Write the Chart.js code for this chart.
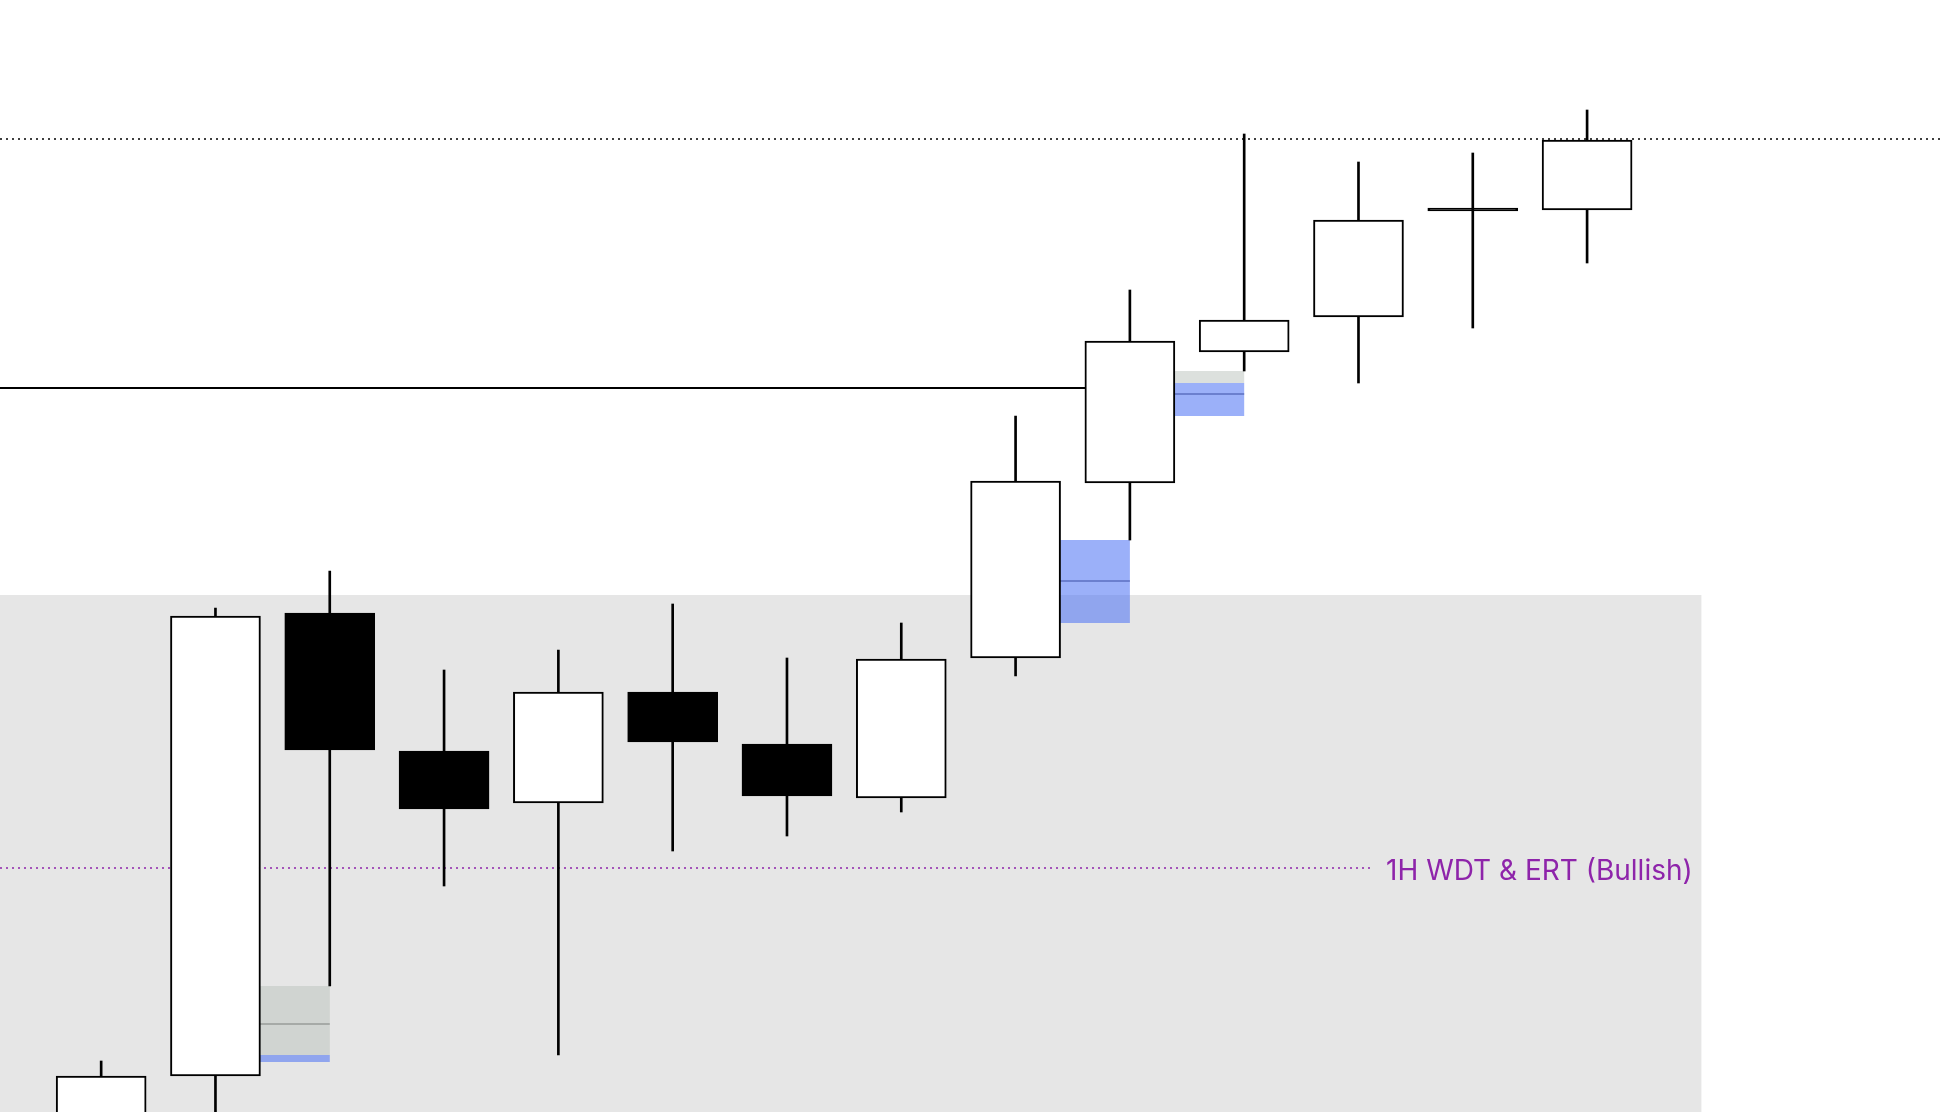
<!DOCTYPE html>
<html>
<head>
<meta charset="utf-8">
<script src="https://cdn.jsdelivr.net/npm/chart.js@4.4.1/dist/chart.umd.min.js"></script>
<style>
  html, body { margin: 0; padding: 0; background: #fff; overflow: hidden; }
  #wrap { width: 1942px; height: 1112px; }
</style>
</head>
<body>
<div id="wrap"><canvas id="chart" width="1942" height="1112"></canvas></div>
<script>
// candles (1H)
const candleIndex = [0, 1, 2, 3, 4, 5, 6, 7, 8, 9, 10, 11, 12, 13];
const opens  = [3996.2, 4003.6, 4049.9, 4036.1, 4030.9, 4042.0, 4036.8, 4031.4, 4045.4, 4062.9, 4076.0, 4079.5, 4090.1, 4090.2];
const closes = [4003.6, 4049.6, 4036.2, 4030.3, 4042.0, 4037.0, 4031.6, 4045.3, 4063.1, 4077.1, 4079.2, 4089.2, 4090.1, 4097.2];
const highs  = [4005.1, 4050.4, 4054.1, 4044.2, 4046.2, 4050.8, 4045.4, 4048.9, 4069.6, 4082.2, 4097.8, 4095.0, 4095.9, 4100.2];
const lows   = [3993.2, 3996.2, 4012.6, 4022.6, 4005.7, 4026.1, 4027.6, 4030.0, 4043.6, 4057.2, 4074.1, 4072.9, 4078.4, 4084.9];

// levels
const highLevel = 4097.3;       // dotted line at top
const breakLevel = 4072.4;      // solid line
const breakLevelEnd = 8.61;     // runs up to candle 9 body
const wdtLevel = 4024.4;        // 1H WDT & ERT (Bullish)
const wdtLevelEnd = 11.11;
const wdtLabel = "1H WDT & ERT (Bullish)";
const zoneTop = 4051.7;         // grey zone, down to the bottom
const zoneEnd = 14;

// small boxes: start at body edge of candle, end at centre of the next
const boxAfter       = [1, 8, 9];
const boxGrayTop     = [4012.6, null, 4074.1];
const boxGrayBottom  = [4005.7, null, 4072.9];
const boxBlueTop     = [4005.7, 4057.2, 4072.9];
const boxBlueBottom  = [4005.0, 4048.9, 4069.6];
const boxMid         = [4008.8, 4053.1, 4071.8];

const X_MIN = -0.885, X_MAX = 16.105;
const Y_MIN = 4000, Y_MAX = 4111.2;
const HALF_BODY = 0.39;

const bodies = candleIndex.map((x, i) => ({ x: x, y: [opens[i], closes[i]] }));
const wicks = candleIndex.map((x, i) => ({ x: x, y: [lows[i], highs[i]] }));
// white = up, black = down; a doji is just a thick black line
const bodyColors = candleIndex.map(i => closes[i] > opens[i] ? '#ffffff' : '#000000');

const zonesPlugin = {
  id: 'zones',
  beforeDatasetsDraw(chart) {
    const { ctx, scales: { x, y } } = chart;
    ctx.save();
    // big grey zone
    ctx.fillStyle = '#e6e6e6';
    const zx0 = x.getPixelForValue(X_MIN), zx1 = x.getPixelForValue(zoneEnd);
    const zy0 = y.getPixelForValue(zoneTop), zy1 = y.getPixelForValue(Y_MIN);
    ctx.fillRect(zx0, zy0, zx1 - zx0, zy1 - zy0);

    boxAfter.forEach((c, i) => {
      const x0 = x.getPixelForValue(c + HALF_BODY);
      const x1 = x.getPixelForValue(c + 1);
      if (boxGrayTop[i] !== null) {
        const a = y.getPixelForValue(boxGrayTop[i]), b = y.getPixelForValue(boxGrayBottom[i]);
        ctx.fillStyle = 'rgba(186,193,187,0.5)';
        ctx.fillRect(x0, a, x1 - x0, b - a);
      }
      const a = y.getPixelForValue(boxBlueTop[i]), b = y.getPixelForValue(boxBlueBottom[i]);
      ctx.fillStyle = 'rgba(73,111,244,0.55)';
      ctx.fillRect(x0, a, x1 - x0, b - a);
      const inGray = boxGrayTop[i] !== null && boxMid[i] > boxGrayBottom[i];
      ctx.strokeStyle = inGray ? '#989c98' : '#5b6fc0';
      ctx.lineWidth = 1.5;
      const m = Math.round(y.getPixelForValue(boxMid[i]));
      ctx.beginPath();
      ctx.moveTo(x0, m);
      ctx.lineTo(x1, m);
      ctx.stroke();
    });
    ctx.restore();
  },
  afterDatasetsDraw(chart) {
    const { ctx, scales: { x, y } } = chart;
    ctx.save();
    ctx.fillStyle = '#8e24aa';
    ctx.font = '28px Inter, "Noto Sans", sans-serif';
    ctx.textBaseline = 'middle';
    ctx.fillText(wdtLabel, x.getPixelForValue(wdtLevelEnd) + 15, y.getPixelForValue(wdtLevel) + 4);
    ctx.restore();
  }
};

new Chart(document.getElementById('chart'), {
  type: 'bar',
  data: {
    datasets: [
      {
        type: 'line',
        data: [{ x: X_MIN, y: highLevel }, { x: X_MAX, y: highLevel }],
        borderColor: '#000000',
        borderWidth: 1.5,
        borderDash: [2, 4],
        pointRadius: 0,
        order: 5
      },
      {
        type: 'line',
        data: [{ x: X_MIN, y: breakLevel }, { x: breakLevelEnd, y: breakLevel }],
        borderColor: '#000000',
        borderWidth: 2,
        pointRadius: 0,
        order: 5
      },
      {
        type: 'line',
        data: [{ x: X_MIN, y: wdtLevel }, { x: wdtLevelEnd, y: wdtLevel }],
        borderColor: '#8e24aa',
        borderWidth: 1.5,
        borderDash: [2, 4],
        pointRadius: 0,
        order: 5
      },
      {
        data: wicks,
        backgroundColor: '#000000',
        borderWidth: 0,
        barThickness: 2,
        grouped: false,
        order: 2
      },
      {
        data: bodies,
        backgroundColor: bodyColors,
        borderColor: '#000000',
        borderWidth: 2,
        borderSkipped: false,
        barThickness: 90,
        minBarLength: 3,
        grouped: false,
        order: 1
      }
    ]
  },
  options: {
    responsive: false,
    animation: false,
    devicePixelRatio: 1,
    layout: { padding: 0 },
    plugins: { legend: { display: false }, tooltip: { enabled: false } },
    scales: {
      x: { type: 'linear', min: X_MIN, max: X_MAX, offset: false, display: false },
      y: { min: Y_MIN, max: Y_MAX, display: false }
    }
  },
  plugins: [zonesPlugin]
});
</script>
</body>
</html>
